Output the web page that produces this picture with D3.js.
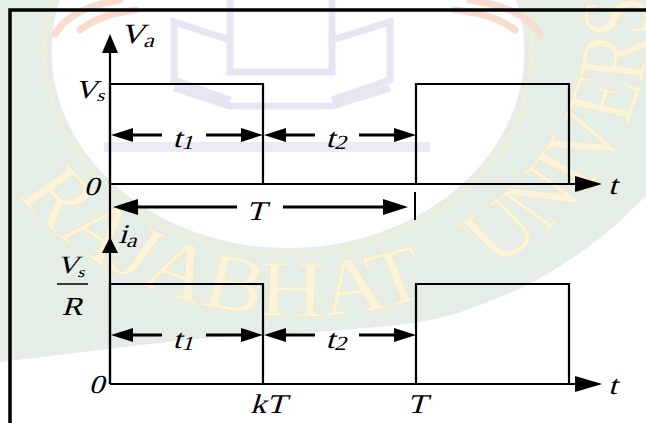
<!DOCTYPE html>
<html>
<head>
<meta charset="utf-8">
<script src="https://cdn.jsdelivr.net/npm/d3@7"></script>
<style>
  html, body { margin: 0; padding: 0; background: #fff; }
  svg { display: block; }
  .lbl { font-family: "Liberation Serif", serif; font-style: normal; fill: #000; }
</style>
</head>
<body>
<div id="chart"></div>
<script>
// ---- data (time in units of the period T, levels normalised to Vs and Vs/R) ----
const k = 0.5;                                        // duty ratio, kT
const pulseTimes  = [0, 0, k, k, 1, 1, 1 + k, 1 + k]; // corners of the two on-pulses
const pulseLevels = [0, 1, 1, 0, 0, 1, 1, 0];
const tEnd = 1.608;                                   // tip of the time axis arrow
const spanFrom = [0, k];
const spanTo   = [k, 1];
const spanSubs = ["1", "2"];
const spanLevel = 0.5;                                // height of the t1 / t2 arrows
const tickTimes  = [k, 1];
const tickTexts  = ["kT", "T"];

const width = 646, height = 423;
const SX = 1.2;                                       // the source is stretched sideways

const svg = d3.select("#chart").append("svg")
    .attr("width", width)
    .attr("height", height);

/**********************/
/******* watermark    */
/**********************/
const wm = svg.append("g").attr("class", "watermark");
const green = "#e4ede6", lav = "#e6e6f3", cream = "#fcf4da";

const outerEdge = [[646,196],[600,238],[540,278],[480,305],[430,320],[330,331],[206,338],[100,350],[0,362]];
const edge = d3.line().curve(d3.curveCatmullRom)(outerEdge).replace(/^M/, "L");
wm.append("path").attr("d", "M0,0L646,0" + edge + "Z").attr("fill", green);

const inner = wm.append("g").attr("transform", `translate(288,51) scale(${SX},1)`);
inner.append("circle").attr("r", 197).attr("fill", "#fff");
inner.append("circle").attr("r", 203).attr("fill", "none").attr("stroke", "#f7eecb").attr("stroke-width", 1.5);

// building (pale lavender)
const bld = wm.append("g").attr("fill", "none").attr("stroke", lav).attr("stroke-width", 7);
bld.append("path").attr("d", "M230,-5V72H332V-5");
bld.append("path").attr("d", "M230,40L174,22V80L230,100");
bld.append("path").attr("d", "M332,40L390,22V80L332,100");
bld.append("path").attr("d", "M174,88L230,106H332L390,88");
wm.append("rect").attr("x", 104).attr("y", 142).attr("width", 326).attr("height", 10)
    .attr("fill", lav).attr("opacity", 0.8);

// flames
const flame = wm.append("g").attr("fill", "none").attr("stroke", "#f8dccd").attr("stroke-width", 7)
    .attr("stroke-linecap", "round");
flame.append("path").attr("d", "M55,34Q70,8 120,0");
flame.append("path").attr("d", "M80,30Q100,14 136,10");
flame.append("path").attr("d", "M540,34Q525,8 470,0");
flame.append("path").attr("d", "M515,30Q495,14 455,10");

// seal text along the ring (two runs)
const ring = wm.append("g").attr("transform", `translate(300,26) scale(${SX},1)`);
const rb = 290;
function arcPath(id, fromDeg, toDeg) {
  const a = fromDeg * Math.PI / 180, b = toDeg * Math.PI / 180;
  ring.append("path").attr("id", id)
      .attr("d", `M${rb * Math.cos(a)},${rb * Math.sin(a)}A${rb},${rb} 0 0,0 ${rb * Math.cos(b)},${rb * Math.sin(b)}`)
      .attr("fill", "none");
  return (fromDeg - toDeg) * Math.PI / 180 * rb;
}
[["arcA", 144.5, 67.7, "RAJABHAT"], ["arcB", 56, -29.8, "UNIVERSITY"]].forEach(([id, f, t, word]) => {
  const len = arcPath(id, f, t);
  ring.append("text")
      .style("font-family", "Liberation Serif, serif")
      .style("font-size", "80px")
      .attr("fill", cream)
      .attr("stroke", "#f5e7bb")
      .attr("stroke-width", 0.6)
      .append("textPath")
      .attr("href", "#" + id)
      .attr("textLength", len)
      .attr("lengthAdjust", "spacingAndGlyphs")
      .text(word);
});

/**********************/
/******* diagram      */
/**********************/
const x = d3.scaleLinear().domain([0, 1]).range([110, 416]);
const yTop = d3.scaleLinear().domain([0, 1]).range([184, 84]);
const yBot = d3.scaleLinear().domain([0, 1]).range([384, 284]);

const g = svg.append("g");

function arrowHead(px, py, dir, len, half) {
  let pts;
  if (dir === "up") pts = [[px, py], [px - half, py + len], [px + half, py + len]];
  else if (dir === "left") pts = [[px, py], [px + len, py - half], [px + len, py + half]];
  else pts = [[px, py], [px - len, py - half], [px - len, py + half]];
  g.append("path").attr("d", "M" + pts.join("L") + "Z").attr("fill", "#000");
}

function hline(x1, x2, y, w) {
  g.append("line").attr("x1", x1).attr("x2", x2).attr("y1", y).attr("y2", y)
      .attr("stroke", "#000").attr("stroke-width", w || 2.2);
}

// slanted serif label, stretched sideways like the source
function label(px, py, main, sub, o) {
  o = o || {};
  const t = g.append("g")
      .attr("transform", `translate(${px},${py}) scale(${SX},1) skewX(-14)`)
      .append("text").attr("class", "lbl")
      .attr("text-anchor", o.anchor || "start")
      .style("font-size", (o.size || 27) + "px");
  t.append("tspan").text(main);
  if (sub) t.append("tspan").attr("dy", o.dy || 4).style("font-size", (o.subSize || 20) + "px").text(sub);
  return t;
}

// frame (top and left edges only)
svg.append("path").attr("d", "M10,423V10H646").attr("fill", "none")
    .attr("stroke", "#000").attr("stroke-width", 3.5);

// shared vertical axis
g.append("line").attr("x1", x(0)).attr("x2", x(0))
    .attr("y1", yTop(1.45)).attr("y2", yBot(0))
    .attr("stroke", "#000").attr("stroke-width", 2.2);
arrowHead(x(0), yTop(1.5), "up", 19, 8);
arrowHead(x(0), yBot(1.47), "up", 16, 8);

const line = d3.line().x((d, i) => x(pulseTimes[i]));

[yTop, yBot].forEach((yS, panel) => {
  // time axis
  hline(x(0), x(tEnd) - 20, yS(0));
  arrowHead(x(tEnd), yS(0), "right", 27, 8);

  // waveform
  g.append("path")
      .attr("d", line.y((d, i) => yS(pulseLevels[i]))(pulseTimes))
      .attr("fill", "none").attr("stroke", "#000").attr("stroke-width", 2.2);

  // t1 / t2 dimension arrows
  spanFrom.forEach((f, i) => {
    const ay = yS(spanLevel) + 1;
    const x1 = x(f) + 1, x2 = x(spanTo[i]);
    const mid = (x1 + x2) / 2 - 2;
    hline(x1 + 10, mid - 23, ay, 2.8);
    hline(mid + 21, x2 - 10, ay, 2.8);
    arrowHead(x1, ay, "left", 22, 7);
    arrowHead(x2, ay, "right", 22, 7);
    label(mid - 2, ay + 12 + panel, "t", spanSubs[i], { anchor: "middle", dy: 2 });
  });

  // t axis label
  label(x(tEnd) + 6, yS(0) + 10, "t");
});

// zero labels
label(x(0) - 11, yTop(0) + 11, "0", null, { anchor: "end", size: 26 });
label(x(0) - 6, yBot(0) + 9, "0", null, { anchor: "end", size: 26 });

// T dimension arrow under the upper panel
const Ty = yTop(-0.23);
hline(x(0) + 20, 237, Ty, 2.8);
hline(283, x(1) - 20, Ty, 2.8);
arrowHead(x(0) + 3, Ty, "left", 25, 8);
arrowHead(x(1) - 8, Ty, "right", 25, 8);
g.append("line").attr("x1", x(1) - 1).attr("x2", x(1) - 1)
    .attr("y1", Ty - 15).attr("y2", Ty + 13)
    .attr("stroke", "#000").attr("stroke-width", 2);
label(256, Ty + 13, "T", null, { anchor: "middle" });

// axis names and levels
label(x(0) + 10, yTop(1.41), "V", "a", { size: 28 });
label(x(0) - 5, yTop(0.86), "V", "s", { anchor: "end", size: 26, subSize: 17, dy: 3 });
label(x(0) + 8, yBot(1.41), "i", "a", { size: 27 });

// Vs / R fraction
const fracX = 72;
label(fracX - 1, yBot(1) - 11, "V", "s", { anchor: "middle", size: 25, subSize: 15, dy: 4 });
g.append("line").attr("x1", fracX - 15).attr("x2", fracX + 16)
    .attr("y1", yBot(1)).attr("y2", yBot(1))
    .attr("stroke", "#000").attr("stroke-width", 1.5);
label(fracX, yBot(1) + 31, "R", null, { anchor: "middle", size: 26 });

// kT and T tick labels
tickTimes.forEach((t, i) => {
  label(x(t) + (i === 0 ? 5 : 1), yBot(0) + 29, tickTexts[i], null, { anchor: "middle" });
});
</script>
</body>
</html>
